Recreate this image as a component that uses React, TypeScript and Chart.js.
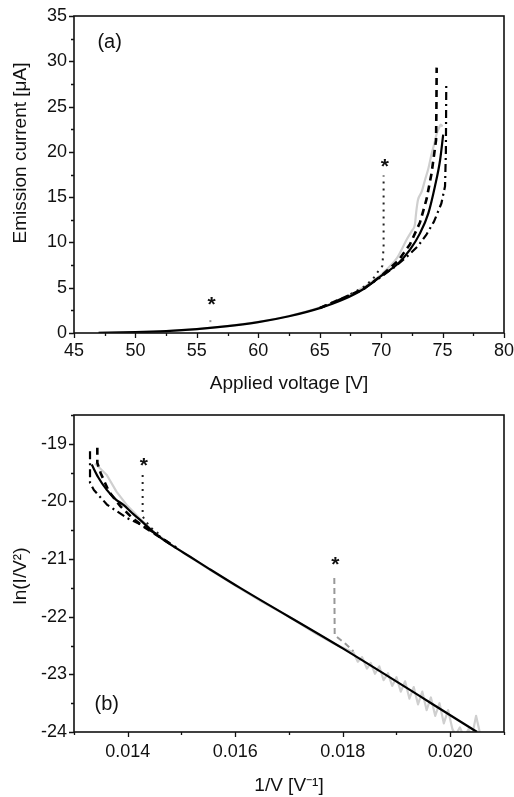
import React, { useEffect, useRef } from 'react';
import { Chart, registerables } from 'chart.js';
Chart.register(...registerables);

const FONT = "'Liberation Sans', Arial, Helvetica, sans-serif";

// ---------- Panel (a): I vs V ----------
const A_X_TICKS = [45, 50, 55, 60, 65, 70, 75, 80];
const A_X_LABELS = ['45', '50', '55', '60', '65', '70', '75', '80'];
const A_X_MINOR = [47.5, 52.5, 57.5, 62.5, 67.5, 72.5, 77.5];
const A_Y_TICKS = [0, 5, 10, 15, 20, 25, 30, 35];
const A_Y_LABELS = ['0', '5', '10', '15', '20', '25', '30', '35'];
const A_Y_MINOR = [2.5, 7.5, 12.5, 17.5, 22.5, 27.5, 32.5];

const A_EXP_V = [47, 50, 52.5, 55, 57.5, 60, 62.5, 65, 67, 68.5, 69.5, 70.5, 71.3, 72.07, 72.5, 72.75, 72.85, 73.0, 73.3, 73.57, 73.85, 74.11, 74.35, 74.52, 74.7, 74.85, 75.0];
const A_EXP_I = [0.03, 0.09, 0.2, 0.43, 0.76, 1.22, 1.88, 2.8, 3.85, 5.0, 5.9, 7.1, 8.3, 10.3, 11.3, 12.0, 13.3, 14.7, 15.6, 16.9, 18.2, 19.8, 21.0, 22.0, 22.6, 23.0, 22.8];

const A_FIT_V = [47, 50, 52.5, 55, 57.5, 60, 62.5, 65, 67, 68.5, 70, 71.4, 72.35, 73.16, 73.84, 74.38, 74.8, 75.05];
const A_FIT_I = [0.03, 0.09, 0.2, 0.42, 0.75, 1.2, 1.85, 2.75, 3.75, 4.8, 6.3, 7.7, 9.2, 11.0, 13.2, 16.2, 19.1, 21.9];

const A_DASH_V = [65, 68.5, 70, 71.4, 72.35, 73.16, 73.7, 74.1, 74.3, 74.47, 74.5, 74.52];
const A_DASH_I = [2.75, 4.8, 6.3, 8.0, 9.8, 12.2, 14.8, 17.6, 19.6, 21.3, 25.0, 29.3];

const A_DDOT_V = [65, 68.5, 70, 71, 72, 73, 73.7, 74.3, 74.9, 75.2, 75.27, 75.3];
const A_DDOT_I = [2.75, 4.8, 6.2, 7.2, 8.3, 9.6, 10.9, 12.3, 14.3, 16.2, 20.0, 27.5];

const A_DOT_V = [67.5, 68.5, 69.3, 69.8, 70.1, 70.2, 70.2];
const A_DOT_I = [4.3, 5.0, 5.9, 6.9, 7.4, 9.5, 17.4];

const A_GDOT_V = [56.1, 56.1];
const A_GDOT_I = [1.2, 1.7];

const A_STAR_X = [56.2, 70.3];
const A_STAR_Y = [3.7, 19.0];

// ---------- Panel (b): FN plot ----------
const B_X_TICKS = [0.014, 0.016, 0.018, 0.020];
const B_X_LABELS = ['0.014', '0.016', '0.018', '0.020'];
const B_X_MINOR = [0.013, 0.015, 0.017, 0.019, 0.021];
const B_Y_TICKS = [-24, -23, -22, -21, -20, -19];
const B_Y_LABELS = ['-24', '-23', '-22', '-21', '-20', '-19'];
const B_Y_MINOR = [-23.5, -22.5, -21.5, -20.5, -19.5, -18.5];

const B_FIT_U = [0.01333, 0.01345, 0.01361, 0.01377, 0.01392, 0.01408, 0.01423, 0.01454, 0.01485, 0.01516, 0.0155, 0.01609, 0.018, 0.0205];
const B_FIT_L = [-19.36, -19.58, -19.8, -19.96, -20.06, -20.2, -20.32, -20.58, -20.78, -20.96, -21.16, -21.5, -22.55, -24.0];

const B_EXP_U = [0.01339, 0.01361, 0.01379, 0.01398, 0.01423, 0.0145, 0.0148, 0.0151, 0.0155, 0.016, 0.0165, 0.017, 0.0175, 0.0178,
  0.0182, 0.01828, 0.01836, 0.01845, 0.01852, 0.0186, 0.01868, 0.01876, 0.01884, 0.01892, 0.019, 0.01908, 0.01916, 0.01924,
  0.01932, 0.0194, 0.01948, 0.01956, 0.01964, 0.01972, 0.0198, 0.01988, 0.01996, 0.02004, 0.0201, 0.02018, 0.02026, 0.02034,
  0.0204, 0.02048, 0.02056, 0.0207, 0.0209, 0.021];
const B_EXP_L = [-19.34, -19.54, -19.83, -20.06, -20.3, -20.54, -20.74, -20.93, -21.17, -21.46, -21.74, -22.0, -22.29, -22.45,
  -22.62, -22.78, -22.7, -22.9, -22.8, -22.99, -22.86, -23.1, -22.98, -23.2, -23.05, -23.3, -23.12, -23.42,
  -23.22, -23.52, -23.3, -23.62, -23.4, -23.72, -23.5, -23.85, -23.62, -23.95, -24.05, -23.92, -24.1, -23.95,
  -24.1, -23.72, -24.05, -24.02, -24.05, -24.02];

const B_DASH_U = [0.013434, 0.013434, 0.013497, 0.01365, 0.01387, 0.0141, 0.0143, 0.0146, 0.0149];
const B_DASH_L = [-19.07, -19.33, -19.51, -19.83, -20.09, -20.3, -20.44, -20.62, -20.8];

const B_DDOT_U = [0.013298, 0.013298, 0.01337, 0.01362, 0.013992, 0.01424, 0.0145, 0.0148];
const B_DDOT_L = [-19.13, -19.68, -19.8, -20.06, -20.29, -20.4, -20.55, -20.74];

const B_DOT_U = [0.014277, 0.014277, 0.01441, 0.0146];
const B_DOT_L = [-19.54, -20.26, -20.44, -20.58];

const B_GDASH_U = [0.017843, 0.01785, 0.01805, 0.0182];
const B_GDASH_L = [-21.33, -22.32, -22.47, -22.6];

const B_STAR_X = [0.0143, 0.01786];
const B_STAR_Y = [-19.28, -21.0];

const zip = (xs: number[], ys: number[]) => xs.map((x, i) => ({ x, y: ys[i] }));

type PanelCfg = {
  xMin: number; xMax: number; yMin: number; yMax: number;
  xTicks: number[]; xLabels: string[]; xMinor: number[];
  yTicks: number[]; yLabels: string[]; yMinor: number[];
  xTitle: string; yTitle: string; yTitleCenter: number;
  xTitlePad: number; xTickPad: number;
  padTop: number; xAxisH: number;
  datasets: any[];
  stars: { x: number[]; y: number[] };
  tag: { text: string; x: number; y: number };
};

function buildConfig(p: PanelCfg): any {
  const decor = {
    id: 'decor',
    afterDatasetsDraw(chart: any) {
      const { ctx, chartArea: ca, scales } = chart;
      const sx = scales.x, sy = scales.y;
      ctx.save();
      ctx.strokeStyle = '#111';
      ctx.lineWidth = 1.6;
      ctx.strokeRect(ca.left, ca.top, ca.right - ca.left, ca.bottom - ca.top);
      ctx.lineWidth = 1.3;
      ctx.beginPath();
      p.xTicks.forEach(v => { const px = Math.round(sx.getPixelForValue(v)) + 0.5; ctx.moveTo(px, ca.bottom); ctx.lineTo(px, ca.bottom + 5); });
      p.xMinor.forEach(v => { const px = Math.round(sx.getPixelForValue(v)) + 0.5; ctx.moveTo(px, ca.bottom); ctx.lineTo(px, ca.bottom + 3); });
      p.yTicks.forEach(v => { const py = Math.round(sy.getPixelForValue(v)) + 0.5; ctx.moveTo(ca.left, py); ctx.lineTo(ca.left - 5, py); });
      p.yMinor.forEach(v => { const py = Math.round(sy.getPixelForValue(v)) + 0.5; ctx.moveTo(ca.left, py); ctx.lineTo(ca.left - 3, py); });
      ctx.stroke();

      // asterisks
      ctx.fillStyle = '#111';
      ctx.font = `bold 21px ${FONT}`;
      ctx.textAlign = 'center';
      ctx.textBaseline = 'alphabetic';
      p.stars.x.forEach((v, i) => {
        const px = sx.getPixelForValue(v);
        const py = sy.getPixelForValue(p.stars.y[i]);
        ctx.fillText('*', px, py + 12);
      });

      // panel tag
      ctx.font = `20px ${FONT}`;
      ctx.textBaseline = 'middle';
      ctx.fillText(p.tag.text, sx.getPixelForValue(p.tag.x), sy.getPixelForValue(p.tag.y));

      // y title
      ctx.save();
      ctx.translate(21, p.yTitleCenter);
      ctx.rotate(-Math.PI / 2);
      ctx.font = `19px ${FONT}`;
      ctx.textAlign = 'center';
      ctx.textBaseline = 'middle';
      ctx.fillText(p.yTitle, 0, 0);
      ctx.restore();
      ctx.restore();
    },
  };

  return {
    type: 'line',
    data: { datasets: p.datasets },
    plugins: [decor],
    options: {
      responsive: false,
      animation: false,
      events: [],
      layout: { padding: { top: p.padTop, right: 10, left: 0, bottom: 0 } },
      plugins: { legend: { display: false }, tooltip: { enabled: false } },
      elements: { point: { radius: 0 }, line: { tension: 0 } },
      scales: {
        x: {
          type: 'linear', min: p.xMin, max: p.xMax,
          afterBuildTicks: (s: any) => { s.ticks = p.xTicks.map(v => ({ value: v })); },
          afterFit: (s: any) => { s.height = p.xAxisH; s.paddingLeft = 0; s.paddingRight = 0; },
          grid: { display: false, drawTicks: false },
          border: { display: false },
          ticks: {
            autoSkip: false, maxRotation: 0, padding: p.xTickPad, color: '#111',
            font: { family: FONT, size: 18 },
            callback: (_v: any, i: number) => p.xLabels[i],
          },
          title: { display: true, text: p.xTitle, color: '#111', font: { family: FONT, size: 19 }, padding: { top: 0, bottom: p.xTitlePad } },
        },
        y: {
          type: 'linear', min: p.yMin, max: p.yMax,
          afterBuildTicks: (s: any) => { s.ticks = p.yTicks.map(v => ({ value: v })); },
          afterFit: (s: any) => { s.width = 74; s.paddingTop = 0; s.paddingBottom = 0; },
          grid: { display: false, drawTicks: false },
          border: { display: false },
          ticks: {
            autoSkip: false, padding: 7, color: '#111',
            font: { family: FONT, size: 18 },
            callback: (_v: any, i: number) => p.yLabels[i],
          },
        },
      },
    },
  };
}

const line = (data: any[], color: string, width: number, dash: number[] = [], smooth = false) => ({
  data, borderColor: color, borderWidth: width, borderDash: dash, pointRadius: 0, fill: false,
  borderCapStyle: 'butt', borderJoinStyle: 'round',
  cubicInterpolationMode: smooth ? 'monotone' : 'default',
});

const PANEL_A: PanelCfg = {
  xMin: 45, xMax: 80, yMin: 0, yMax: 35,
  xTicks: A_X_TICKS, xLabels: A_X_LABELS, xMinor: A_X_MINOR,
  yTicks: A_Y_TICKS, yLabels: A_Y_LABELS, yMinor: A_Y_MINOR,
  xTitle: 'Applied voltage [V]', yTitle: 'Emission current [\u03bcA]', yTitleCenter: 153,
  xTitlePad: 5, xTickPad: 7, padTop: 16, xAxisH: 67,
  datasets: [
    line(zip(A_FIT_V, A_FIT_I), '#000', 2.2, [], true),
    line(zip(A_DASH_V, A_DASH_I), '#000', 2.6, [7, 5]),
    line(zip(A_DDOT_V, A_DDOT_I), '#000', 2.2, [8, 4, 2, 4]),
    line(zip(A_DOT_V, A_DOT_I), '#222', 2, [2, 5]),
    line(zip(A_GDOT_V, A_GDOT_I), '#999', 2, [2, 3]),
    line(zip(A_EXP_V, A_EXP_I), '#cfcfcf', 2.2, [], true),
  ],
  stars: { x: A_STAR_X, y: A_STAR_Y },
  tag: { text: '(a)', x: 47.9, y: 32.1 },
};

const PANEL_B: PanelCfg = {
  xMin: 0.013, xMax: 0.021, yMin: -24, yMax: -18.5,
  xTicks: B_X_TICKS, xLabels: B_X_LABELS, xMinor: B_X_MINOR,
  yTicks: B_Y_TICKS, yLabels: B_Y_LABELS, yMinor: B_Y_MINOR,
  xTitle: '1/V [V\u207b\u00b9]', yTitle: 'ln(I/V\u00b2)', yTitleCenter: 176,
  xTitlePad: 0, xTickPad: 9, padTop: 15, xAxisH: 65,
  datasets: [
    line(zip(B_FIT_U, B_FIT_L), '#000', 2.2, [], true),
    line(zip(B_DASH_U, B_DASH_L), '#000', 2.6, [7, 5]),
    line(zip(B_DDOT_U, B_DDOT_L), '#000', 2.2, [8, 4, 2, 4]),
    line(zip(B_DOT_U, B_DOT_L), '#222', 2, [2, 5]),
    line(zip(B_GDASH_U, B_GDASH_L), '#999', 2, [6, 4]),
    line(zip(B_EXP_U, B_EXP_L), '#cfcfcf', 2.2),
  ],
  stars: { x: B_STAR_X, y: B_STAR_Y },
  tag: { text: '(b)', x: 0.01361, y: -23.53 },
};

function Panel({ cfg, top, height }: { cfg: PanelCfg; top: number; height: number }) {
  const ref = useRef<HTMLCanvasElement | null>(null);
  useEffect(() => {
    if (!ref.current) return;
    const chart = new Chart(ref.current, buildConfig(cfg));
    return () => chart.destroy();
  }, [cfg]);
  return (
    <canvas
      ref={ref}
      width={514}
      height={height}
      style={{ position: 'absolute', left: 0, top, width: 514, height, display: 'block' }}
    />
  );
}

export default function App() {
  return (
    <div style={{ position: 'absolute', left: 0, top: 0, width: 514, height: 797, background: '#fff' }}>
      <Panel cfg={PANEL_A} top={0} height={400} />
      <Panel cfg={PANEL_B} top={400} height={397} />
    </div>
  );
}
